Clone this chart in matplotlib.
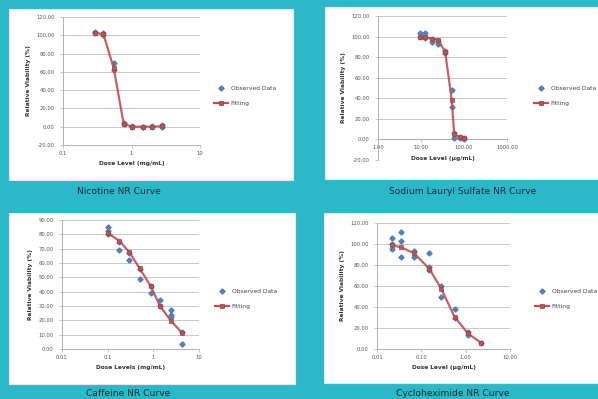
import matplotlib
matplotlib.use("Agg")
import matplotlib.pyplot as plt
from matplotlib.patches import Rectangle
from matplotlib.lines import Line2D

W, H = 598, 399
BG = '#2bb9c9'
OBS = '#4f81bd'
FIT = '#c0504d'
TXT = '#1b2a3a'

# ---- Nicotine (mg/mL) ----
nic_dose = [0.29, 0.39, 0.55, 0.77, 1.03, 1.45, 2.0, 2.8]
nic_obs = [[104, 103], [102, 100], [70, 62], [4, 3], [1, 0], [0, 0], [1, 0], [2, 0]]
nic_fit = [103, 101, 64, 3, 0, 0, 0, 0.5]

# ---- Sodium Lauryl Sulfate (ug/mL) ----
sls_dose = [9.5, 12.4, 17.8, 25, 36.5, 52, 59, 82, 98]
sls_obs = [[103, 100], [103, 99], [98, 95], [96, 93], [86, 84], [48, 32], [6, 1], [2, 1], [1, 0]]
sls_fit = [100, 100, 98, 97, 85, 38, 5, 2, 1]

# ---- Caffeine (mg/mL) ----
caf_dose = [0.1, 0.18, 0.3, 0.5, 0.87, 1.4, 2.4, 4.2]
caf_obs = [[85, 82, 80], [75, 69], [67, 62], [56, 49], [44, 39], [34, 30], [27, 24, 22], [12, 3.5]]
caf_fit = [81, 75.4, 67.5, 56.3, 44, 30, 19.8, 11.4]

# ---- Cycloheximide (ug/mL) ----
cyc_dose = [0.022, 0.034, 0.067, 0.15, 0.28, 0.56, 1.12, 2.2]
cyc_obs = [[106, 100, 95], [111, 103, 88], [93, 88], [78, 75, 91.5], [60, 50], [38, 30], [16, 13], [6]]
cyc_fit = [98.7, 97, 91.5, 76.6, 57.6, 30.7, 14.9, 6]

fig = plt.figure(figsize=(W / 100, H / 100), dpi=100, facecolor=BG)


def fbox(x0, y0, x1, y1):
    return [x0 / W, 1 - y1 / H, (x1 - x0) / W, (y1 - y0) / H]


def draw_panel(panel, plot, dose, obs, fit, ylim, yticks, xlim, xticks, xticklabels,
               xlabel, caption, cap_xy, leg_xy, cross_zero=False):
    px0, py0, px1, py1 = panel
    fig.patches.append(Rectangle((px0 / W, 1 - py1 / H), (px1 - px0) / W, (py1 - py0) / H,
                                 transform=fig.transFigure, facecolor='white',
                                 edgecolor='#e6e6e6', linewidth=0.8, zorder=-5))
    ax = fig.add_axes(fbox(*plot))
    ax.set_facecolor('none')
    ax.set_xscale('log')
    ax.set_xlim(*xlim)
    ax.set_ylim(*ylim)
    ax.set_yticks(yticks)
    ax.set_yticklabels([f"{v:.2f}" for v in yticks])
    ax.set_xticks(xticks)
    ax.set_xticklabels(xticklabels)
    ax.minorticks_off()
    ax.grid(axis='y', color='#c8c8c8', linewidth=0.7)
    ax.set_axisbelow(True)
    for s in ['top', 'right']:
        ax.spines[s].set_visible(False)
    for s in ['left', 'bottom']:
        ax.spines[s].set_color('#b0b0b0')
        ax.spines[s].set_linewidth(0.7)
    if cross_zero:
        ax.spines['bottom'].set_position(('data', 0))
    ax.tick_params(axis='y', length=2, width=0.5, color='#b0b0b0', labelsize=3.8,
                   labelcolor='#555555', pad=4)
    ax.tick_params(axis='x', length=2, width=0.5, color='#b0b0b0', labelsize=3.8,
                   labelcolor='#555555', pad=2)
    ax.set_ylabel('Relative Viability (%)', fontsize=4.2, fontweight='bold', color='#333333',
                  labelpad=4)
    ax.set_xlabel(xlabel, fontsize=4.2, fontweight='bold', color='#333333', labelpad=4)

    for d, reps in zip(dose, obs):
        ax.plot([d] * len(reps), reps, linestyle='none', marker='D', markersize=2.6,
                color=OBS, zorder=3)
    ax.plot(dose, fit, color=FIT, linewidth=1.6, marker='s', markersize=3.2,
            markeredgecolor='#a33a37', markeredgewidth=0.5, zorder=4, alpha=0.9)

    fig.text(cap_xy[0] / W, 1 - cap_xy[1] / H, caption, ha='center', va='center',
             fontsize=6.6, color=TXT)

    handles = [Line2D([], [], linestyle='none', marker='D', markersize=2.6, color=OBS),
               Line2D([], [], color=FIT, linewidth=1.6, marker='s', markersize=3.2,
                      markeredgecolor='#a33a37', markeredgewidth=0.5)]
    fig.legend(handles, ['Observed Data', 'Fitting'], loc='upper left',
               bbox_to_anchor=(leg_xy[0] / W, 1 - leg_xy[1] / H), frameon=False,
               fontsize=4.3, handlelength=2.4, handletextpad=0.4, labelspacing=1.6,
               borderpad=0, labelcolor='#444444')
    return ax


draw_panel((9, 9, 293, 180), (63, 17, 200, 145), nic_dose, nic_obs, nic_fit,
           (-20, 120), list(range(-20, 121, 20)), (0.1, 10), [0.1, 1, 10], ['0.1', '1', '10'],
           'Dose Level (mg/mL)', 'Nicotine NR Curve', (119, 191), (211, 83))

draw_panel((325, 7, 600, 179), (378, 16, 507, 160), sls_dose, sls_obs, sls_fit,
           (-20, 120), list(range(-20, 121, 20)), (1, 1000), [1, 10, 100, 1000],
           ['1.00', '10.00', '100.00', '1000.00'],
           'Dose Level (\u00b5g/mL)', 'Sodium Lauryl Sulfate NR Curve', (463, 192), (531, 83),
           cross_zero=True)

draw_panel((9, 213, 295, 384), (62, 220, 199, 349), caf_dose, caf_obs, caf_fit,
           (0, 90), list(range(0, 91, 10)), (0.01, 10), [0.01, 0.1, 1, 10],
           ['0.01', '0.1', '1', '10'],
           'Dose Levels (mg/mL)', 'Caffeine NR Curve', (128, 394), (212, 286))

draw_panel((324, 213, 600, 383), (377, 223, 510, 349), cyc_dose, cyc_obs, cyc_fit,
           (0, 120), list(range(0, 121, 20)), (0.01, 10), [0.01, 0.1, 1, 10],
           ['0.01', '0.10', '1.00', '10.00'],
           'Dose Level (\u00b5g/mL)', 'Cycloheximide NR Curve', (453, 393), (532, 286))

fig.savefig('out.png', dpi=100, facecolor=BG)
